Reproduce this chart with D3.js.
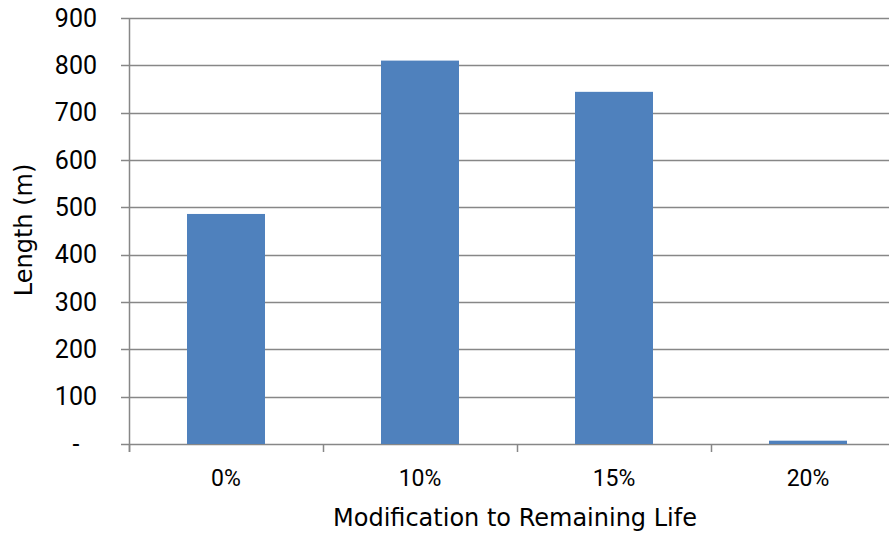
<!DOCTYPE html>
<html><head><meta charset="utf-8">
<script src="https://cdn.jsdelivr.net/npm/d3@7"></script>
<style>body{margin:0;background:#fff;}</style>
</head><body>
<svg id="c" width="889" height="533"></svg>
<script>
const categories = ["0%", "10%", "15%", "20%"];
const values = [486, 810, 744, 7];
const yTicks = [0, 100, 200, 300, 400, 500, 600, 700, 800, 900];

(function () {
const svg = d3.select("#c");
const pLeft = 129, pRight = 905, pTop = 18, pBottom = 444;
const xb = d3.scaleBand().domain(categories).range([pLeft, pRight]);
const y = d3.scaleLinear().domain([0, 900]).range([pBottom, pTop]);
const grey = "#878787";
const tickFont = "Roboto, 'Liberation Sans', sans-serif";
const titleFont = "'DejaVu Sans', Verdana, sans-serif";

svg.append("g").selectAll("line").data(yTicks).join("line")
  .attr("x1", pLeft - 8).attr("x2", pRight)
  .attr("y1", d => Math.round(y(d)) + 0.5).attr("y2", d => Math.round(y(d)) + 0.5)
  .attr("stroke", grey).attr("stroke-width", 1.5);

svg.append("g").selectAll("rect").data(values).join("rect")
  .attr("x", (d, i) => xb(categories[i]) + xb.bandwidth() / 2 - 39)
  .attr("width", 78)
  .attr("y", d => y(d)).attr("height", d => pBottom - y(d))
  .attr("fill", "#4F81BD");

svg.append("line").attr("x1", pLeft + 0.5).attr("x2", pLeft + 0.5).attr("y1", pTop).attr("y2", pBottom + 8)
  .attr("stroke", grey).attr("stroke-width", 1.5);
svg.append("g").selectAll("line").data(categories).join("line")
  .attr("x1", d => Math.round(xb(d)) + 0.5).attr("x2", d => Math.round(xb(d)) + 0.5)
  .attr("y1", pBottom).attr("y2", pBottom + 8)
  .attr("stroke", grey).attr("stroke-width", 1.5);

svg.append("g").selectAll("text").data(yTicks).join("text")
  .attr("x", d => d === 0 ? 76 : 97).attr("y", d => y(d)).attr("dy", "0.35em")
  .attr("text-anchor", d => d === 0 ? "middle" : "end")
  .attr("font-size", 25).attr("font-family", tickFont).attr("fill", "#000")
  .text(d => d === 0 ? "-" : d3.format("d")(d));

svg.append("g").selectAll("text").data(categories).join("text")
  .attr("x", d => xb(d) + xb.bandwidth() / 2).attr("y", 478).attr("dy", "0.35em")
  .attr("text-anchor", "middle").attr("font-size", 23).attr("font-family", tickFont).attr("fill", "#000")
  .text(d => d);

svg.append("text").attr("x", 515).attr("y", 518).attr("dy", "0.35em")
  .attr("text-anchor", "middle").attr("font-size", 24).attr("font-family", titleFont).attr("fill", "#000")
  .text("Modification to Remaining Life");

svg.append("text").attr("transform", "translate(24,230) rotate(-90)").attr("dy", "0.35em")
  .attr("text-anchor", "middle").attr("font-size", 24).attr("font-family", titleFont).attr("fill", "#000")
  .text("Length (m)");
})();
</script>
</body></html>
